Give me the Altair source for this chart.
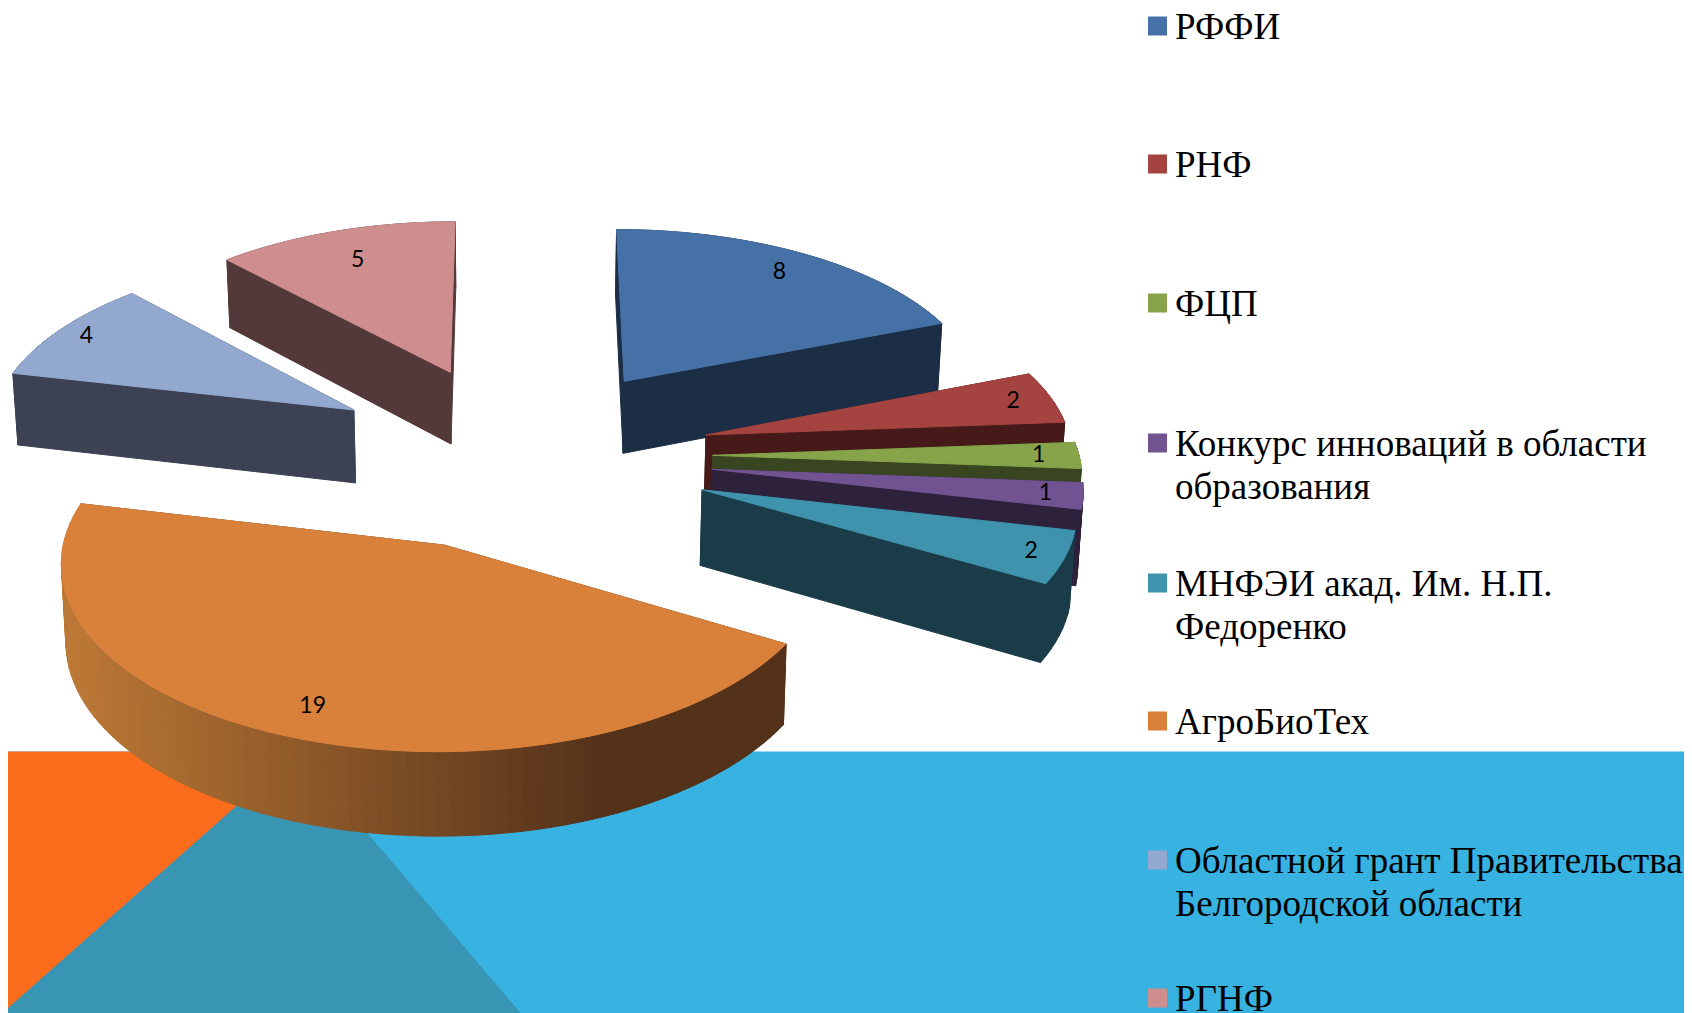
import math
import altair as alt

# ---- chart data ----
categories = ["РФФИ", "РНФ", "ФЦП", "Конкурс инноваций в области\nобразования",
              "МНФЭИ акад. Им. Н.П.\nФедоренко", "АгроБиоТех",
              "Областной грант Правительства\nБелгородской области", "РГНФ"]
values = [8, 2, 1, 1, 2, 19, 4, 5]
top_colors = ["#4671A6", "#A54340", "#87A44A", "#705390", "#3F93AD", "#D9813B", "#92A8CF", "#CE8E8D"]
side_colors = ["#1C2E45", "#451A18", "#384520", "#2D213C", "#1A3C48", "#54321A", "#3C4254", "#54393A"]
label_fraction = [0.85, 0.89, 0.89, 0.9, 0.91, 0.85, 0.91, 0.79]
draw_order = [0, 1, 2, 3, 4, 7, 6, 5]

# ---- layout of the perspective pie (reference pixels) ----
S = 1692 / 1568
CX, CY = 480.5 * S, 422 * S
RX, RY = 339.5 * S, 162.1 * S
PERSP_X, PERSP_Y, EXPLODE, DEPTH, SHRINK = 0.08, 0.0793, 0.53, 69 * S, 0.99


def proj(wx, wy, bottom=False):
    fx, fy = 1 / (1 - PERSP_X * wy), 1 / (1 - PERSP_Y * wy)
    x, y = RX * wx * fx, RY * wy * fy
    if bottom:
        return [CX + x * SHRINK, CY + y + DEPTH * fy]
    return [CX + x, CY + y]


def mix(a, b, t):
    ca = [int(a[i:i + 2], 16) for i in (1, 3, 5)]
    cb = [int(b[i:i + 2], 16) for i in (1, 3, 5)]
    return "#%02x%02x%02x" % tuple(round(p + (q - p) * t) for p, q in zip(ca, cb))


def feature(points, fill):
    ring = [list(p) for p in points] + [list(points[0])]
    return {"type": "Feature", "properties": {"fill": fill},
            "geometry": {"type": "Polygon", "coordinates": [ring]}}


total = sum(values)
spans = []
a = 0.0
for v in values:
    spans.append((a, a + v / total * 2 * math.pi))
    a = spans[-1][1]

# background band
features = [
    feature([[0, 752], [1692, 752], [1692, 1013], [0, 1013]], "#38B2E1"),
    feature([[0, 752], [298, 752], [3, 1013], [0, 1013]], "#FB6D1D"),
    feature([[298, 752], [520, 1013], [3, 1013]], "#3895B3"),
]

labels = []
for i in draw_order:
    a0, a1 = spans[i]
    mid = (a0 + a1) / 2
    ox, oy = EXPLODE * math.sin(mid), -EXPLODE * math.cos(mid)
    steps = max(4, int((a1 - a0) / math.radians(2.0)))
    rim = [(ox + math.sin(a0 + (a1 - a0) * j / steps), oy - math.cos(a0 + (a1 - a0) * j / steps))
           for j in range(steps + 1)]
    outline = [(ox, oy)] + rim
    quads = []
    for j in range(len(outline)):
        p, q = outline[j], outline[(j + 1) % len(outline)]
        poly = [proj(*p), proj(*q), proj(*q, True), proj(*p, True)]
        fill = side_colors[i]
        if i == 5 and 0 < j < len(outline) - 1:
            mx = (poly[0][0] + poly[1][0]) / 2
            fill = mix("#BC7835", "#54321A", min(1, max(0, (mx - 70) / 530)))
        quads.append(((p[1] + q[1]) / 2, poly, fill))
    for _, poly, fill in sorted(quads, key=lambda t: t[0]):
        features.append(feature(poly, fill))
    features.append(feature([proj(*p) for p in outline], top_colors[i]))
    fr = label_fraction[i]
    lx, ly = proj(ox + fr * math.sin(mid), oy - fr * math.cos(mid))
    labels.append({"x": lx, "y": ly, "label": str(values[i])})

row_y = [26, 164, 303, 443, 583, 721, 860, 998]
legend_rows = [{"x": 1157.5, "y": y, "tx": 1175, "text": c, "fill": col}
               for y, c, col in zip(row_y, categories, top_colors)]

xs = alt.Scale(domain=[8, 1684], nice=False, zero=False)
ys = alt.Scale(domain=[1013, 8], nice=False, zero=False)

pie = alt.Chart(alt.InlineData(values={"type": "FeatureCollection", "features": features},
                               format=alt.DataFormat(property="features", type="json"))
                ).mark_geoshape(strokeWidth=1).encode(
    fill=alt.Fill("properties.fill:N", scale=None, legend=None, sort=None),
    stroke=alt.Stroke("properties.fill:N", scale=None, legend=None),
).project(type="identity", scale=1, translate=[-8, -8])

value_text = alt.Chart(alt.Data(values=labels)).mark_text(
    font="Lato", fontSize=23, color="black", align="center", baseline="middle"
).encode(x=alt.X("x:Q", scale=xs, axis=None), y=alt.Y("y:Q", scale=ys, axis=None), text="label:N")

squares = alt.Chart(alt.Data(values=legend_rows)).mark_square(size=361, opacity=1, filled=True).encode(
    x=alt.X("x:Q", scale=xs, axis=None), y=alt.Y("y:Q", scale=ys, axis=None),
    fill=alt.Fill("fill:N", scale=None, legend=None),
)
legend_text = alt.Chart(alt.Data(values=legend_rows)).mark_text(
    font="Liberation Serif", fontSize=37, color="black", align="left", baseline="top",
    lineBreak="\n", lineHeight=43, dy=-16,
).encode(x=alt.X("tx:Q", scale=xs, axis=None), y=alt.Y("y:Q", scale=ys, axis=None), text="text:N")

chart = alt.layer(pie, value_text, squares, legend_text).properties(
    width=1676, height=1005, padding=0,
    autosize=alt.AutoSizeParams(type="none"),
).configure_view(stroke=None)

chart.save("out.html", embed_options={"renderer": "svg", "actions": False})
